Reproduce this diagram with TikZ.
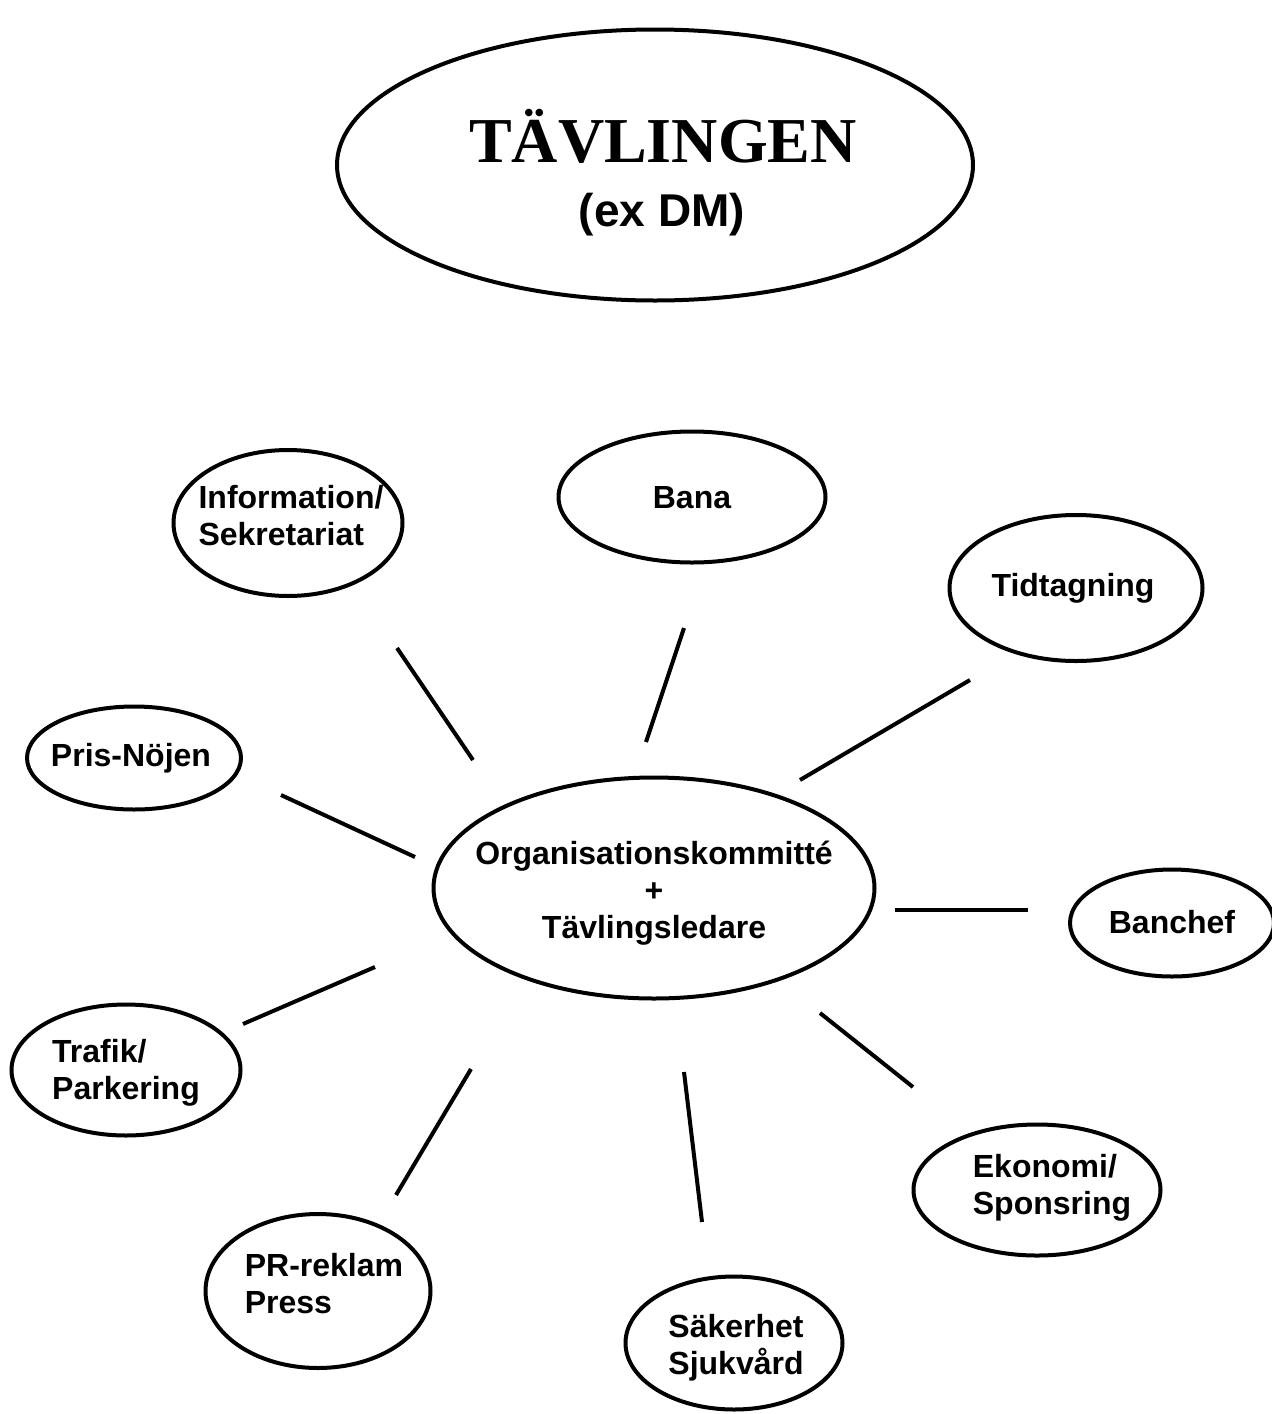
\documentclass[tikz,border=0pt]{standalone}
\usepackage{fontspec}
\setmainfont{Liberation Sans}
\newfontfamily\titleserif{Liberation Serif}
\usetikzlibrary{shapes.geometric}
\tikzset{
  oval/.style={draw, ellipse, line width=2pt, inner sep=0pt},
  lbl/.style={font=\bfseries\fontsize{16}{18.5}\selectfont, inner sep=0pt},
  lblL/.style={lbl, align=left},
  lblC/.style={lbl, align=center},
  conn/.style={line width=2pt},
}
\begin{document}
\begin{tikzpicture}[x=0.5pt, y=-0.5pt]
\useasboundingbox (0,0) rectangle (1272,1414);
% ellipses
\node[oval, minimum width=318pt, minimum height=135.5pt] (top) at (655,165) {};
\node[oval, minimum width=114.5pt, minimum height=73pt] (info) at (288,523) {};
\node[oval, minimum width=133.5pt, minimum height=65.5pt] (bana) at (692,497) {};
\node[oval, minimum width=126.5pt, minimum height=73pt] (tid) at (1076,588) {};
\node[oval, minimum width=107pt, minimum height=51.5pt] (pris) at (134,758) {};
\node[oval, minimum width=220.5pt, minimum height=110.5pt] (org) at (654,888) {};
\node[oval, minimum width=102pt, minimum height=53.5pt] (banchef) at (1172,923) {};
\node[oval, minimum width=114.5pt, minimum height=65.5pt] (trafik) at (126,1070) {};
\node[oval, minimum width=123.5pt, minimum height=65.5pt] (ekon) at (1037,1190) {};
\node[oval, minimum width=112.5pt, minimum height=77pt] (pr) at (318,1291) {};
\node[oval, minimum width=108.5pt, minimum height=66.5pt] (sak) at (734,1343) {};
% texts
\node[inner sep=0pt, font=\titleserif\bfseries\fontsize{32}{38}\selectfont] (topt1) at (663,136) {TÄVLINGEN};
\node[inner sep=0pt, font=\bfseries\fontsize{23}{27}\selectfont] (topt2) at (662,215) {(ex DM)};
\node[lblL] (infot) at (291,516) {Information/\\Sekretariat};
\node[lbl] (banat) at (692,498) {Bana};
\node[lbl] (tidt) at (1073,588) {Tidtagning};
\node[lbl] (prist) at (131,758) {Pris-Nöjen};
\node[lblC] (orgt) at (654,893) {Organisationskommitté\\+\\Tävlingsledare};
\node[lbl] (bancheft) at (1172,922) {Banchef};
\node[lblL] (trafikt) at (126,1073) {Trafik/\\Parkering};
\node[lblL] (ekont) at (1052,1188) {Ekonomi/\\Sponsring};
\node[lblL] (prt) at (324,1284) {PR-reklam\\Press};
\node[lblC] (sakt) at (736,1348) {Säkerhet\\Sjukvård};
% connector end points
\coordinate (a1) at (397,648); \coordinate (b1) at (473,760);
\coordinate (a2) at (684,628); \coordinate (b2) at (646,742);
\coordinate (a3) at (970,680); \coordinate (b3) at (800,780);
\coordinate (a4) at (281,795); \coordinate (b4) at (415,857);
\coordinate (a5) at (1028,910); \coordinate (b5) at (895,910);
\coordinate (a6) at (243,1024); \coordinate (b6) at (375,967);
\coordinate (a7) at (913,1087); \coordinate (b7) at (820,1013);
\coordinate (a8) at (396,1195); \coordinate (b8) at (471,1069);
\coordinate (a9) at (702,1222); \coordinate (b9) at (684,1072);
\foreach \i in {1,...,9} { \draw[conn] (a\i) -- (b\i); }
\end{tikzpicture}
\end{document}
